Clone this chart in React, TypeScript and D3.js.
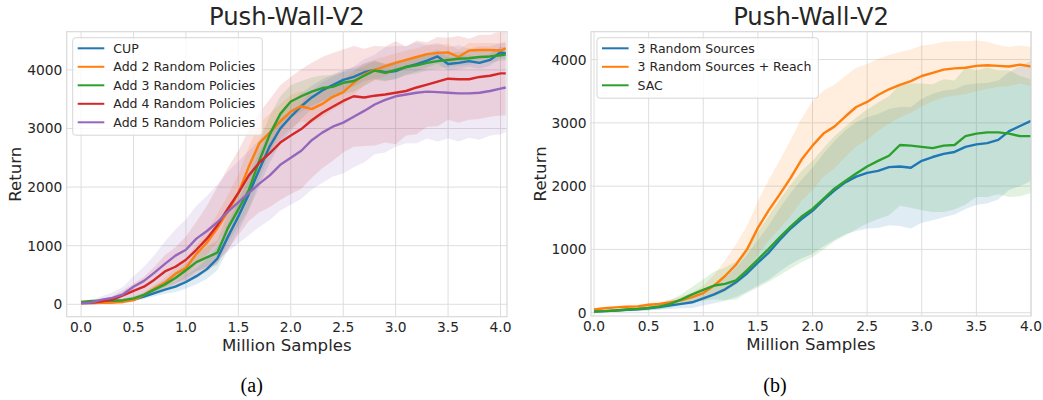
import React from "react";
import * as d3 from "d3";

// ---------- data (a) ----------
const SAMPLES_A = [0, 0.1, 0.2, 0.3, 0.4, 0.5, 0.6, 0.7, 0.8, 0.9, 1.0, 1.1, 1.2, 1.3, 1.4, 1.5, 1.6, 1.7, 1.8, 1.9, 2.0, 2.1, 2.2, 2.3, 2.4, 2.5, 2.6, 2.7, 2.8, 2.9, 3.0, 3.1, 3.2, 3.3, 3.4, 3.5, 3.6, 3.7, 3.8, 3.9, 4.0, 4.05];
const LABELS_A = ["CUP", "Add 2 Random Policies", "Add 3 Random Policies", "Add 4 Random Policies", "Add 5 Random Policies"];
const CUP_MEAN = [20, 25, 30, 40, 55, 80, 130, 190, 250, 300, 380, 480, 600, 780, 1150, 1500, 1880, 2300, 2700, 3000, 3200, 3380, 3530, 3650, 3740, 3830, 3880, 3960, 4000, 3960, 3980, 4050, 4100, 4160, 4230, 4100, 4120, 4150, 4120, 4170, 4300, 4280];
const CUP_STD = [10, 15, 15, 20, 25, 30, 40, 55, 70, 90, 110, 140, 170, 200, 230, 260, 280, 290, 280, 260, 240, 220, 200, 190, 180, 170, 160, 150, 150, 140, 140, 130, 130, 120, 120, 110, 110, 100, 100, 100, 100, 100];
const ADD2_MEAN = [20, 20, 25, 30, 40, 70, 160, 270, 370, 520, 620, 860, 1050, 1300, 1580, 1900, 2350, 2750, 2930, 3120, 3290, 3380, 3330, 3420, 3540, 3620, 3780, 3920, 4000, 4060, 4120, 4170, 4220, 4270, 4290, 4300, 4220, 4330, 4340, 4340, 4330, 4370];
const ADD2_STD = [10, 15, 15, 20, 25, 30, 45, 60, 80, 100, 130, 160, 200, 240, 280, 320, 340, 340, 320, 300, 280, 260, 240, 230, 220, 210, 200, 190, 180, 170, 160, 160, 150, 150, 140, 140, 130, 130, 120, 120, 120, 120];
const ADD3_MEAN = [40, 55, 60, 60, 70, 100, 160, 250, 340, 450, 580, 720, 800, 880, 1300, 1620, 1950, 2450, 2900, 3250, 3460, 3550, 3630, 3690, 3710, 3780, 3810, 3900, 3990, 3950, 4000, 4050, 4080, 4120, 4150, 4170, 4190, 4200, 4220, 4230, 4250, 4260];
const ADD3_STD = [20, 20, 20, 25, 30, 35, 45, 60, 80, 100, 120, 150, 180, 210, 250, 290, 320, 330, 320, 300, 280, 260, 240, 220, 200, 190, 180, 170, 160, 150, 150, 140, 140, 130, 130, 120, 120, 110, 110, 100, 100, 100];
const ADD4_MEAN = [20, 25, 50, 80, 150, 230, 300, 420, 560, 640, 760, 930, 1120, 1350, 1630, 1900, 2200, 2420, 2580, 2760, 2880, 2990, 3140, 3270, 3370, 3470, 3550, 3530, 3560, 3580, 3610, 3640, 3700, 3750, 3800, 3850, 3840, 3840, 3880, 3900, 3940, 3940];
const ADD4_STD = [20, 30, 40, 60, 90, 120, 170, 220, 280, 330, 400, 480, 560, 650, 700, 720, 780, 850, 920, 980, 1000, 1020, 980, 950, 920, 880, 860, 830, 850, 820, 880, 760, 800, 720, 760, 700, 740, 690, 720, 700, 720, 720];
const ADD5_MEAN = [20, 30, 80, 110, 170, 300, 400, 540, 690, 830, 930, 1120, 1250, 1400, 1580, 1740, 1900, 2060, 2200, 2380, 2500, 2620, 2800, 2930, 3030, 3100, 3200, 3300, 3410, 3490, 3550, 3580, 3610, 3630, 3620, 3610, 3600, 3600, 3610, 3640, 3680, 3700];
const ADD5_STD = [20, 40, 60, 90, 130, 180, 240, 300, 380, 450, 520, 560, 600, 640, 680, 700, 720, 740, 760, 780, 800, 820, 840, 860, 850, 870, 860, 880, 850, 900, 860, 830, 860, 800, 840, 780, 820, 760, 800, 760, 780, 760];

// ---------- data (b) ----------
const SAMPLES_B = [0, 0.1, 0.2, 0.3, 0.4, 0.5, 0.6, 0.7, 0.8, 0.9, 1.0, 1.1, 1.2, 1.3, 1.4, 1.5, 1.6, 1.7, 1.8, 1.9, 2.0, 2.1, 2.2, 2.3, 2.4, 2.5, 2.6, 2.7, 2.8, 2.9, 3.0, 3.1, 3.2, 3.3, 3.4, 3.5, 3.6, 3.7, 3.8, 3.9, 4.0];
const LABELS_B = ["3 Random Sources", "3 Random Sources + Reach", "SAC"];
const SRC3_MEAN = [20, 25, 35, 45, 55, 70, 90, 115, 140, 165, 225, 290, 370, 480, 620, 790, 950, 1150, 1330, 1480, 1610, 1780, 1930, 2060, 2150, 2210, 2240, 2300, 2310, 2290, 2400, 2460, 2510, 2540, 2620, 2660, 2680, 2730, 2870, 2950, 3030];
const SRC3_STD = [10, 15, 20, 25, 30, 35, 45, 55, 70, 90, 110, 140, 180, 230, 290, 360, 430, 500, 560, 620, 680, 730, 780, 820, 860, 880, 900, 920, 940, 960, 980, 1000, 1000, 990, 980, 960, 950, 940, 930, 950, 950];
const REACH_MEAN = [50, 70, 85, 95, 100, 125, 140, 165, 195, 245, 310, 430, 580, 760, 1000, 1340, 1620, 1870, 2130, 2420, 2640, 2830, 2940, 3100, 3250, 3330, 3440, 3530, 3600, 3660, 3740, 3790, 3840, 3860, 3870, 3900, 3910, 3900, 3890, 3920, 3890];
const REACH_STD = [20, 20, 20, 25, 25, 30, 35, 45, 60, 80, 120, 170, 250, 320, 370, 420, 480, 540, 600, 650, 700, 680, 660, 640, 620, 600, 570, 540, 520, 500, 480, 450, 440, 430, 420, 400, 370, 330, 310, 300, 310];
const SAC_MEAN = [20, 25, 35, 50, 60, 75, 100, 140, 210, 290, 360, 430, 455, 510, 670, 840, 1010, 1190, 1360, 1520, 1640, 1800, 1960, 2080, 2200, 2310, 2400, 2480, 2650, 2640, 2620, 2600, 2640, 2650, 2790, 2830, 2850, 2850, 2830, 2790, 2790];
const SAC_STD = [15, 15, 20, 25, 30, 35, 45, 60, 80, 120, 170, 220, 260, 300, 360, 440, 520, 600, 660, 720, 760, 800, 830, 860, 880, 900, 920, 940, 960, 980, 1000, 1010, 1050, 1020, 1080, 1000, 1020, 980, 1000, 950, 900];

// ---------- ticks & text ----------
const X_TICKS = [0, 0.5, 1.0, 1.5, 2.0, 2.5, 3.0, 3.5, 4.0];
const Y_TICKS = [0, 1000, 2000, 3000, 4000];
const TITLE = "Push-Wall-V2";
const X_LABEL = "Million Samples";
const Y_LABEL = "Return";
const COLORS = ["#1f77b4", "#ff7f0e", "#2ca02c", "#d62728", "#9467bd"];

type Series = { label: string; color: string; mean: number[]; std: number[] };

const SERIES_A: Series[] = [
  { label: LABELS_A[0], color: COLORS[0], mean: CUP_MEAN, std: CUP_STD },
  { label: LABELS_A[1], color: COLORS[1], mean: ADD2_MEAN, std: ADD2_STD },
  { label: LABELS_A[2], color: COLORS[2], mean: ADD3_MEAN, std: ADD3_STD },
  { label: LABELS_A[3], color: COLORS[3], mean: ADD4_MEAN, std: ADD4_STD },
  { label: LABELS_A[4], color: COLORS[4], mean: ADD5_MEAN, std: ADD5_STD },
];
const SERIES_B: Series[] = [
  { label: LABELS_B[0], color: COLORS[0], mean: SRC3_MEAN, std: SRC3_STD },
  { label: LABELS_B[1], color: COLORS[1], mean: REACH_MEAN, std: REACH_STD },
  { label: LABELS_B[2], color: COLORS[2], mean: SAC_MEAN, std: SAC_STD },
];

const FONT = "DejaVu Sans, Verdana, sans-serif";
const TEXT = "#262626";
const GRID = "#dedede";

type PanelProps = {
  id: string;
  left: number; right: number; top: number; bottom: number;
  xDomain: [number, number]; yDomain: [number, number];
  samples: number[]; series: Series[];
  legendW: number;
  caption: string; captionX: number;
};

function Panel(p: PanelProps) {
  const x = d3.scaleLinear().domain(p.xDomain).range([p.left, p.right]);
  const y = d3.scaleLinear().domain(p.yDomain).range([p.bottom, p.top]);
  const cx = (p.left + p.right) / 2;
  const cy = (p.top + p.bottom) / 2;
  const line = (s: Series) =>
    d3.line<number>().x((_, i) => x(p.samples[i])).y((v) => y(v))(s.mean) || "";
  const area = (s: Series) =>
    d3
      .area<number>()
      .x((_, i) => x(p.samples[i]))
      .y0((v, i) => y(v - s.std[i]))
      .y1((v, i) => y(v + s.std[i]))(s.mean) || "";
  const lgX = p.left + 6;
  const lgY = p.top + 6;
  const rowH = 18.5;
  const lgH = p.series.length * rowH + 5;
  return (
    <g>
      <defs>
        <clipPath id={p.id}>
          <rect x={p.left} y={p.top} width={p.right - p.left} height={p.bottom - p.top} />
        </clipPath>
      </defs>
      <rect x={p.left} y={p.top} width={p.right - p.left} height={p.bottom - p.top} fill="#fff" />
      {X_TICKS.map((t) => (
        <line key={"gx" + t} x1={x(t)} x2={x(t)} y1={p.top} y2={p.bottom} stroke={GRID} strokeWidth={1} />
      ))}
      {Y_TICKS.map((t) => (
        <line key={"gy" + t} x1={p.left} x2={p.right} y1={y(t)} y2={y(t)} stroke={GRID} strokeWidth={1} />
      ))}
      <g clipPath={`url(#${p.id})`}>
        {p.series.map((s) => (
          <path key={"a" + s.label} d={area(s)} fill={s.color} fillOpacity={0.14} stroke="none" />
        ))}
        {p.series.map((s) => (
          <path key={"l" + s.label} d={line(s)} fill="none" stroke={s.color} strokeWidth={2.4} strokeLinejoin="round" />
        ))}
      </g>
      <rect x={p.left} y={p.top} width={p.right - p.left} height={p.bottom - p.top} fill="none" stroke="#d9d9d9" strokeWidth={1.2} />
      {X_TICKS.map((t) => (
        <text key={"tx" + t} x={x(t)} y={p.bottom + 15} textAnchor="middle" fontSize={13.8} fill={TEXT} fontFamily={FONT}>
          {d3.format(".1f")(t)}
        </text>
      ))}
      {Y_TICKS.map((t) => (
        <text key={"ty" + t} x={p.left - 4.4} y={y(t) + 5} textAnchor="end" fontSize={13.8} fill={TEXT} fontFamily={FONT}>
          {String(t)}
        </text>
      ))}
      <text x={cx} y={p.top - 7} textAnchor="middle" fontSize={24.3} fill={TEXT} fontFamily={FONT}>{TITLE}</text>
      <text x={cx} y={p.bottom + 34} textAnchor="middle" fontSize={16.6} fill={TEXT} fontFamily={FONT}>{X_LABEL}</text>
      <text transform={`translate(${p.left - 45.5},${cy}) rotate(-90)`} textAnchor="middle" fontSize={16.6} fill={TEXT} fontFamily={FONT}>{Y_LABEL}</text>
      <g>
        <rect x={lgX} y={lgY} width={p.legendW} height={lgH} rx={3} fill="#fff" fillOpacity={0.8} stroke="#d6d6d6" strokeWidth={1} />
        {p.series.map((s, i) => {
          const ry = lgY + 10.6 + i * rowH;
          return (
            <g key={"lg" + s.label}>
              <line x1={lgX + 5} x2={lgX + 31.6} y1={ry} y2={ry} stroke={s.color} strokeWidth={2} />
              <text x={lgX + 40.6} y={ry + 4.5} fontSize={12.5} fill={TEXT} fontFamily={FONT}>{s.label}</text>
            </g>
          );
        })}
      </g>
      <text x={p.captionX} y={392} textAnchor="middle" fontSize={20} fill="#000" fontFamily="Liberation Serif, Times New Roman, serif">{p.caption}</text>
    </g>
  );
}

export default function App() {
  return (
    <svg width={1043} height={400} style={{ position: "absolute", left: 0, top: 0, background: "#fff" }}>
      <rect x={0} y={0} width={1043} height={400} fill="#fff" />
      <Panel
        id="clipA"
        left={66.7} right={507} top={31.7} bottom={316.7}
        xDomain={[-0.137, 4.062]} yDomain={[-212, 4652]}
        samples={SAMPLES_A} series={SERIES_A}
        legendW={189.6}
        caption="(a)" captionX={251.7}
      />
      <Panel
        id="clipB"
        left={591} right={1031} top={31.7} bottom={316}
        xDomain={[-0.0275, 4.0]} yDomain={[-52, 4440]}
        samples={SAMPLES_B} series={SERIES_B}
        legendW={221.3}
        caption="(b)" captionX={775}
      />
    </svg>
  );
}
